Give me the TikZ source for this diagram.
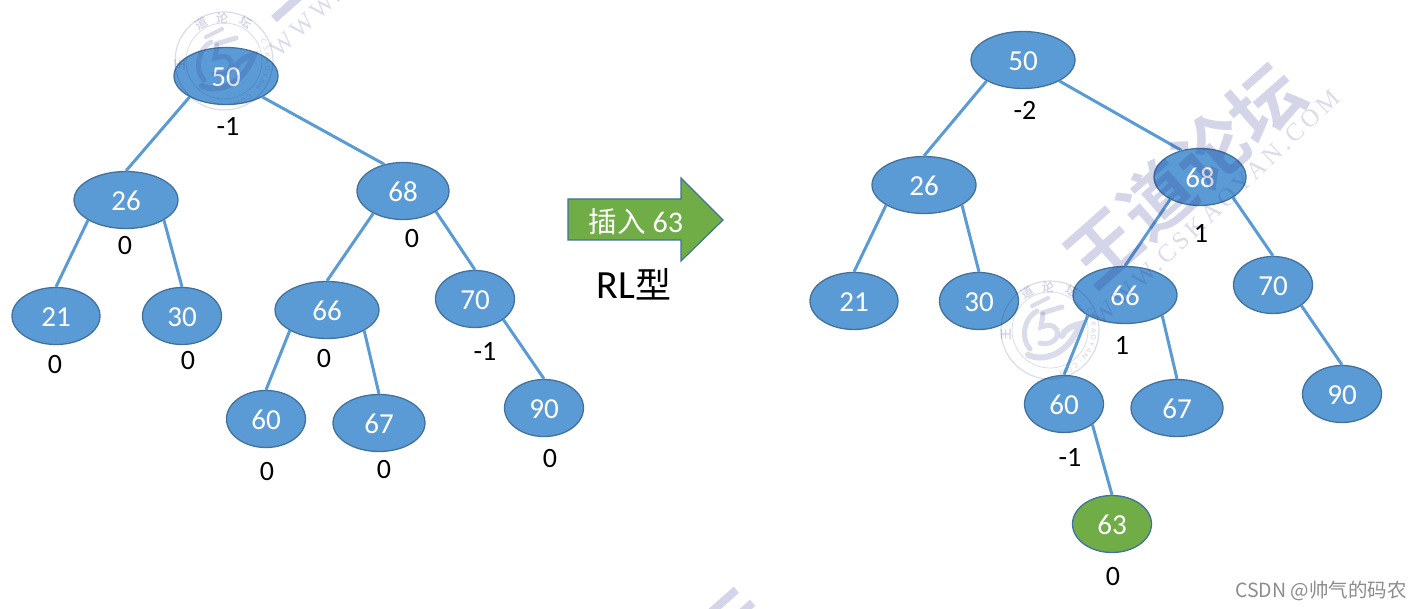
\documentclass[tikz,border=0pt]{standalone}
\usepackage{fontspec}
\setmainfont{Carlito}
\newfontfamily\cjk{Noto Sans CJK SC}
\newfontfamily\cjkb{Noto Sans CJK SC Bold}
\newfontfamily\wmserif[LetterSpace=15]{Liberation Serif}
\usetikzlibrary{shapes.geometric}
\definecolor{nodeblue}{HTML}{5B9BD5}
\definecolor{nodeedge}{HTML}{41719C}
\definecolor{leafgreen}{HTML}{70AD47}
\definecolor{wm}{HTML}{2A2E8A}
\tikzset{
  x=1pt,y=-1pt,
  tree/.style={ellipse,draw=nodeedge,line width=1.3pt,fill=nodeblue,text=white,inner sep=0pt,text height=20.5pt,text depth=0pt,font=\fontsize{29}{29}\selectfont},
  wide/.style={tree,minimum width=104pt,minimum height=57pt},
  mid/.style={tree,minimum width=92pt,minimum height=57pt},
  wider/.style={tree,minimum width=88pt,minimum height=57pt},
  narrow/.style={tree,minimum width=79pt,minimum height=57pt},
  new/.style={narrow,fill=leafgreen},
  edge/.style={draw=nodeblue,line width=3pt},
  bf/.style={text=black,inner sep=0pt,font=\fontsize{28}{28}\selectfont},
  wmtitle/.style={text=wm,text opacity=.2,inner sep=0pt,font=\cjkb\fontsize{72}{72}\selectfont,rotate=41.5},
  wmurl/.style={text=wm,text opacity=.17,inner sep=0pt,font=\wmserif\fontsize{25}{25}\selectfont,rotate=43.4},
  wmseal/.style={text=wm,text opacity=.2,inner sep=0pt,font=\cjkb\fontsize{12}{12}\selectfont},
  wmsmall/.style={text=wm,text opacity=.2,inner sep=0pt,font=\fontsize{8}{8}\selectfont},
  wmline/.style={draw=wm,draw opacity=.17},
}
\newcommand{\sealmark}[2]{%
  \begin{scope}[shift={(#1,#2)}]
    \draw[wmline,line width=1.2pt] (0,0) circle[radius=49];
    \draw[wmline,line width=.8pt] (0,0) circle[radius=38];
    \draw[wmline,line width=5pt,line cap=round] (-13,-19) .. controls (-26,-12) and (-30,8) .. (-20,19);
    \draw[wmline,line width=6pt,line cap=round] (-22,25) .. controls (-4,33) and (20,22) .. (30,-6) .. controls (22,-4) and (16,-2) .. (12,6);
    \draw[wmline,line width=5pt,line cap=round] (-8,-17) -- (12,-23);
    \draw[wmline,line width=5pt,line cap=round] (-7,-16) -- (-9,-3) .. controls (2,-7) and (9,-3) .. (7,6) .. controls (5,13) and (-4,15) .. (-10,13);
    \draw[wmline,line width=4pt,line cap=round] (-18,-24) -- (-2,-32);
    \node[wmseal,rotate=90] (s1) at (-44,4) {\cjkb 王};
    \node[wmseal,rotate=30] (s2) at (-23,-37) {\cjkb 道};
    \node[wmseal,rotate=-5] (s3) at (-2,-43) {\cjkb 论};
    \node[wmseal,rotate=-30] (s4) at (22,-38) {\cjkb 坛};
    \foreach \ch [count=\i] in {C,S,K,A,O,Y,A,N,.,C,O,M}{
      \pgfmathsetmacro{\ang}{35-\i*9}
      \node[wmsmall,rotate=\ang-90] (c\i) at ({44*cos(\ang)},{-44*sin(\ang)}) {\ch};
    }
  \end{scope}}
\newcommand{\brandmark}[2]{%
  \begin{scope}[shift={(#1,#2)}]
    \node[wmtitle] (t) at (0,0) {王道论坛};
    \node[wmurl] (u) at (32,33) {WWW.CSKAOYAN.COM};
  \end{scope}}
\begin{document}
\begin{tikzpicture}
\clip (0,0) rectangle (1423,609);
\useasboundingbox (0,0) rectangle (1423,609);

% left tree
\node[wide] (a50) at (226,76) {50};
\node[wide] (a26) at (126,200) {26};
\node[mid] (a68) at (403,191) {68};
\node[wider] (a21) at (56,316) {21};
\node[narrow] (a30) at (182,316) {30};
\node[wide] (a66) at (327,310) {66};
\node[narrow] (a70) at (475,299) {70};
\node[narrow] (a60) at (266,419) {60};
\node[mid] (a67) at (379,423) {67};
\node[narrow] (a90) at (544,408) {90};
\draw[edge] (a50.210) -- (a26.90);
\draw[edge] (a50.330) -- (a68.125);
\draw[edge] (a26.208) -- (a21.90);
\draw[edge] (a26.332) -- (a30.90);
\draw[edge] (a68.217) -- (a66.90);
\draw[edge] (a68.328) -- (a70.90);
\draw[edge] (a66.209) -- (a60.90);
\draw[edge] (a66.331) -- (a67.90);
\draw[edge] (a70.324) -- (a90.90);
\node[bf] (la50) at (228,126) {-1};
\node[bf] (la26) at (125,246) {0};
\node[bf] (la68) at (412,239) {0};
\node[bf] (la21) at (55,365) {0};
\node[bf] (la30) at (188,361) {0};
\node[bf] (la66) at (324,359) {0};
\node[bf] (la70) at (485,351) {-1};
\node[bf] (la60) at (267,472) {0};
\node[bf] (la67) at (384,470) {0};
\node[bf] (la90) at (550,459) {0};

% arrow
\path[draw=nodeedge,line width=1.2pt,fill=leafgreen] (568,199) -- (681,199) -- (681,178) -- (723,220) -- (681,261) -- (681,240) -- (568,240) -- cycle;
\node[text=white,inner sep=0pt,font=\fontsize{30}{30}\selectfont] (ins) at (636,222) {{\cjk\fontsize{28.5}{28.5}\selectfont 插入} 63};
\node[text=black,inner sep=0pt,font=\fontsize{40}{40}\selectfont] (rl) at (634,284) {RL{\cjk\fontsize{36}{36}\selectfont 型}};

% right tree
\node[wide] (b50) at (1023,60) {50};
\node[wide] (b26) at (924,185) {26};
\node[mid] (b68) at (1200,177) {68};
\node[wider] (b21) at (854,301) {21};
\node[narrow] (b30) at (979,301) {30};
\node[wide] (b66) at (1125,295) {66};
\node[narrow] (b70) at (1273,285) {70};
\node[narrow] (b60) at (1064,404) {60};
\node[mid] (b67) at (1177,408) {67};
\node[narrow] (b90) at (1342,394) {90};
\node[new] (b63) at (1112,524) {63};
\draw[edge] (b50.210) -- (b26.90);
\draw[edge] (b50.330) -- (b68.125);
\draw[edge] (b26.208) -- (b21.90);
\draw[edge] (b26.332) -- (b30.90);
\draw[edge] (b68.217) -- (b66.90);
\draw[edge] (b68.328) -- (b70.90);
\draw[edge] (b66.209) -- (b60.90);
\draw[edge] (b66.331) -- (b67.90);
\draw[edge] (b70.324) -- (b90.90);
\draw[edge] (b60.324) -- (b63.90);
\node[bf] (lb50) at (1025,110) {-2};
\node[bf] (lb68) at (1201,233) {1};
\node[bf] (lb66) at (1122,345) {1};
\node[bf] (lb60) at (1070,457) {-1};
\node[bf] (lb63) at (1113,577) {0};

\node[text=black!45,inner sep=0pt,font=\cjk\fontsize{19.5}{19.5}\selectfont] (csdn) at (1321,591) {CSDN @帅气的码农};

% watermarks
\sealmark{224}{61}
\sealmark{1050}{330}
\brandmark{362}{-94}
\brandmark{1184}{175}
\brandmark{650}{700}
\end{tikzpicture}
\end{document}
